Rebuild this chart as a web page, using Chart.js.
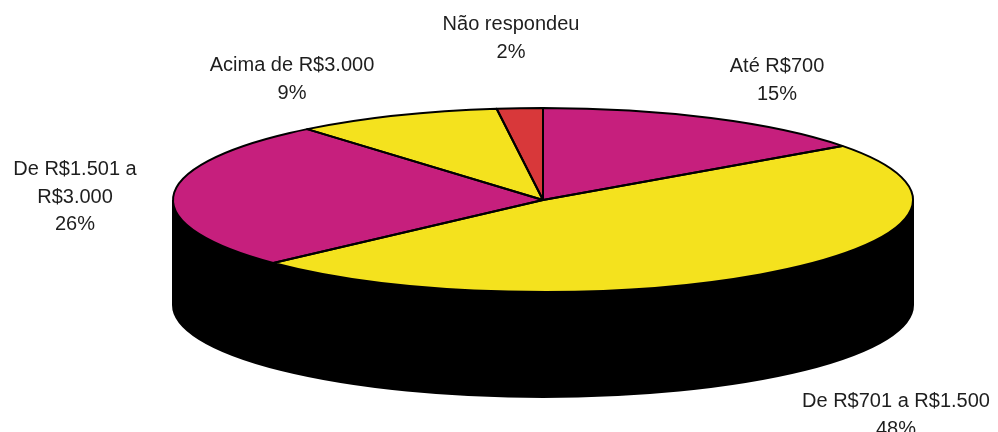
<!DOCTYPE html>
<html>
<head>
<meta charset="utf-8">
<script src="https://cdn.jsdelivr.net/npm/chart.js@4/dist/chart.umd.min.js"></script>
<style>
  html, body { margin: 0; padding: 0; background: #ffffff; }
  #wrap { width: 998px; height: 432px; }
</style>
</head>
<body>
<div id="wrap"><canvas id="c" width="998" height="432"></canvas></div>
<script>
// ---- data ----
const categories = ["Até R$700", "De R$701 a R$1.500", "De R$1.501 a R$3.000", "Acima de R$3.000", "Não respondeu"];
const labelLines = [["Até R$700"], ["De R$701 a R$1.500"], ["De R$1.501 a", "R$3.000"], ["Acima de R$3.000"], ["Não respondeu"]];
const percentValues = [15, 48, 26, 9, 2];
const sliceColors = ["#C61F7D", "#F4E21E", "#C61F7D", "#F4E21E", "#D8383A"];

// ---- geometry of the tilted disc (styles / layout only) ----
const GEO = { cx: 543, cy: 200, rx: 370, ry: 92, depth: 105 };
// label anchor (center x, first baseline y)
const labelAnchors = [[777, 72], [896, 407], [75, 175], [292, 71], [511, 30]];

const tiltPlugin = {
  id: 'tilt3d',
  beforeDatasetsDraw(chart) {
    const ctx = chart.ctx;
    const meta = chart.getDatasetMeta(0);
    const arc0 = meta.data[0];
    const g = GEO;
    // black side wall
    ctx.save();
    ctx.fillStyle = '#000000';
    ctx.beginPath();
    ctx.ellipse(g.cx, g.cy + g.depth, g.rx, g.ry, 0, 0, Math.PI);
    ctx.lineTo(g.cx - g.rx, g.cy);
    ctx.ellipse(g.cx, g.cy, g.rx, g.ry, 0, Math.PI, 0, true);
    ctx.closePath();
    ctx.fill();
    ctx.restore();
    // squash the library's circle into the ellipse
    const r = arc0.outerRadius;
    ctx.save();
    ctx.translate(g.cx, g.cy);
    ctx.scale(g.rx / r, g.ry / r);
    ctx.translate(-arc0.x, -arc0.y);
  },
  afterDatasetsDraw(chart) {
    const ctx = chart.ctx;
    ctx.restore();
    const g = GEO;
    const meta = chart.getDatasetMeta(0);
    ctx.save();
    ctx.strokeStyle = '#000000';
    ctx.lineWidth = 2;
    ctx.lineJoin = 'round';
    meta.data.forEach(a => {
      ctx.beginPath();
      ctx.moveTo(g.cx, g.cy);
      ctx.ellipse(g.cx, g.cy, g.rx, g.ry, 0, a.startAngle, a.endAngle, false);
      ctx.closePath();
      ctx.stroke();
    });
    // outer rim of the side wall
    ctx.beginPath();
    ctx.moveTo(g.cx - g.rx, g.cy);
    ctx.lineTo(g.cx - g.rx, g.cy + g.depth);
    ctx.ellipse(g.cx, g.cy + g.depth, g.rx, g.ry, 0, Math.PI, 0, true);
    ctx.lineTo(g.cx + g.rx, g.cy);
    ctx.stroke();
    ctx.restore();
  },
  afterDraw(chart) {
    const ctx = chart.ctx;
    const vals = chart.data.datasets[0].data;
    ctx.save();
    ctx.fillStyle = '#1e1e1e';
    ctx.font = '20px "Liberation Sans", Arial, sans-serif';
    ctx.textAlign = 'center';
    ctx.textBaseline = 'alphabetic';
    labelLines.forEach((lines, i) => {
      const [x, y] = labelAnchors[i];
      const all = lines.concat([vals[i] + '%']);
      all.forEach((t, k) => ctx.fillText(t, x, y + k * 27.5));
    });
    ctx.restore();
  }
};

new Chart(document.getElementById('c'), {
  type: 'pie',
  data: {
    labels: categories,
    datasets: [{
      data: percentValues,
      backgroundColor: sliceColors,
      borderWidth: 0
    }]
  },
  options: {
    responsive: false,
    devicePixelRatio: 1,
    animation: false,
    events: [],
    layout: { padding: 0 },
    plugins: {
      legend: { display: false },
      tooltip: { enabled: false }
    }
  },
  plugins: [tiltPlugin]
});
</script>
</body>
</html>
